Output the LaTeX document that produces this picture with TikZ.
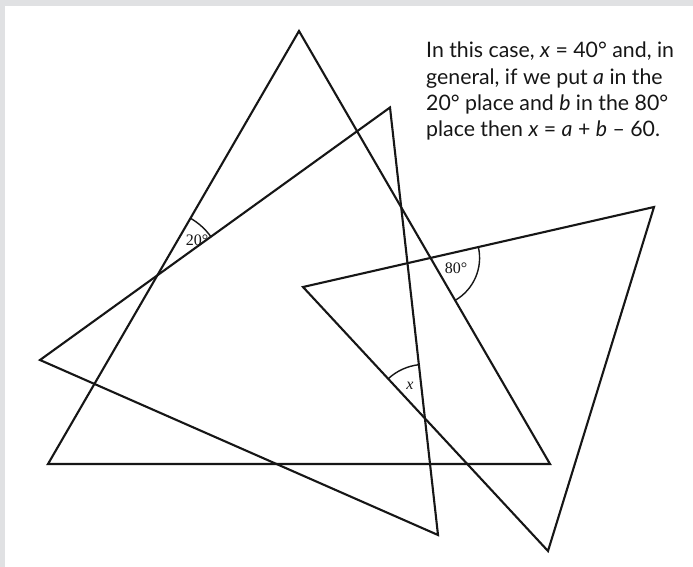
\documentclass[tikz,border=0pt]{standalone}
\usepackage{fontspec}
\setmainfont{Lato}
\newfontfamily\figfont{Liberation Serif}
\usetikzlibrary{calc}
\definecolor{edge}{RGB}{22,22,22}
\definecolor{frame}{RGB}{224,225,227}

\begin{document}
\begin{tikzpicture}[x=1pt,y=-1pt,
  tri/.style={draw=edge, line width=2.1pt, line join=miter},
  anglearc/.style={draw=edge, line width=1.4pt},
  anglelbl/.style={font=\figfont\fontsize{16}{16}\selectfont, text=edge, inner sep=0pt}]
\useasboundingbox (0,0) rectangle (693,567);
\fill[white] (0,0) rectangle (693,567);
\fill[frame] (0,0) rectangle (693,6);
\fill[frame] (0,0) rectangle (5,567);

% corners of the three triangles
\foreach \n/\p in {a1/{299,31}, b1/{48,464}, c1/{550,464},
  a2/{390,107.5}, b2/{40,360}, c2/{438,535},
  a3/{303,287}, b3/{654,207}, c3/{548,551}}
  \coordinate (\n) at (\p);

\draw[tri] (a1) -- (b1) -- (c1) -- cycle;
\draw[tri] (a2) -- (b2) -- (c2) -- cycle;
\draw[tri] (a3) -- (b3) -- (c3) -- cycle;

% marked angles
\coordinate (p20) at (intersection of a1--b1 and b2--a2);
\coordinate (p80) at (intersection of a1--c1 and a3--b3);
\coordinate (px) at (intersection of a2--c2 and a3--c3);
\draw[anglearc] (p20) ++(-59.9:66) arc[start angle=-59.9, end angle=-35.8, radius=66];
\draw[anglearc] (p80) ++(-12.8:49) arc[start angle=-12.8, end angle=59.9, radius=49];
\draw[anglearc] (px) ++(-132.9:54) arc[start angle=-132.9, end angle=-96.4, radius=54];

\node[anglelbl] (l20) at (197,240) {20°};
\node[anglelbl] (l80) at (456,268) {80°};
\node[anglelbl] (lx) at (410,386) {\itshape x};

\node[anchor=north west, align=left, inner sep=0pt, text=edge,
  font=\fontsize{21.3}{26.2}\selectfont] (note) at (426,42)
  {In this case, \textit{x} = 40° and, in\\
   general, if we put \textit{a} in the\\
   20° place and \textit{b} in the 80°\\
   place then \textit{x} = \textit{a} + \textit{b} – 60.};
\end{tikzpicture}
\end{document}
